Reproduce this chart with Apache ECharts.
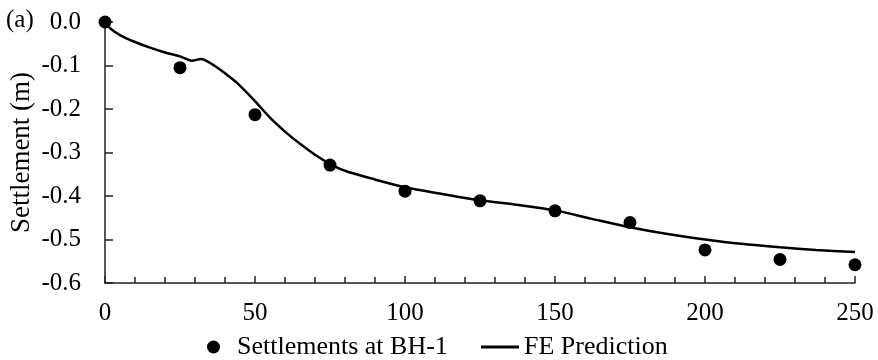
<!DOCTYPE html>
<html>
<head>
<meta charset="utf-8">
<script src="https://cdn.jsdelivr.net/npm/echarts@6/dist/echarts.min.js"></script>
<style>
  html, body { margin: 0; padding: 0; background: #fff; }
  #chart { width: 878px; height: 360px; }
</style>
</head>
<body>
<div id="chart"></div>
<script>
// 实测沉降点 (BH-1)
const measuredX = [0, 25, 50, 75, 100, 125, 150, 175, 200, 225, 250]
const measuredY = [0, -0.105, -0.213, -0.329, -0.389, -0.411, -0.434, -0.461, -0.524, -0.546, -0.558]

// 有限元预测曲线
const feX = [0, 2, 5, 10, 15, 20, 25, 29, 32, 34, 37, 40, 44, 50, 55, 60, 65, 70, 75, 80,
  90, 100, 112, 125, 137, 150, 162, 175, 187, 200, 212, 225, 237, 250]
const feY = [0, -0.016, -0.03, -0.046, -0.059, -0.07, -0.079, -0.089, -0.085, -0.09, -0.103,
  -0.118, -0.14, -0.182, -0.22, -0.252, -0.28, -0.305, -0.326, -0.342, -0.362, -0.38,
  -0.395, -0.41, -0.42, -0.433, -0.452, -0.472, -0.487, -0.5, -0.51, -0.518, -0.524, -0.529]

const FONT = 'Liberation Serif'

const chart = echarts.init(document.getElementById('chart'))

const option = {
  animation: false,
  textStyle: { fontFamily: FONT, color: '#000' },
  grid: { left: 105, right: 23, top: 22, bottom: 77, containLabel: false, outerBoundsMode: 'none' },
  graphic: [
    {
      type: 'text',
      left: 6,
      top: 8,
      style: { text: '(a)', font: '25px "Liberation Serif"', fill: '#000' }
    }
  ],
  legend: [
    {
      left: 202,
      top: 329,
      itemWidth: 37,
      itemHeight: 13,
      textStyle: { fontFamily: FONT, fontSize: 26, color: '#000' },
      data: [{ name: 'Settlements at BH-1', icon: 'circle' }]
    },
    {
      left: 476,
      top: 329,
      itemWidth: 38,
      itemHeight: 13,
      textStyle: { fontFamily: FONT, fontSize: 26, color: '#000' },
      data: [{ name: 'FE Prediction', icon: 'path://M0,0 L40,0 L40,3 L0,3 Z' }]
    }
  ],
  xAxis: {
    type: 'value',
    min: 0,
    max: 250,
    interval: 50,
    splitLine: { show: false },
    axisLine: { onZero: false, lineStyle: { color: '#222', width: 1.5 } },
    axisTick: { inside: true, length: 7, lineStyle: { color: '#222', width: 1.5 } },
    minorTick: { show: true, splitNumber: 5, length: 6, lineStyle: { color: '#222', width: 1.5 } },
    axisLabel: { fontFamily: FONT, fontSize: 25, color: '#000', margin: 18 }
  },
  yAxis: {
    type: 'value',
    min: -0.6,
    max: 0,
    interval: 0.1,
    name: 'Settlement (m)',
    nameLocation: 'middle',
    nameGap: 70,
    nameMoveOverlap: false,
    nameTextStyle: { fontFamily: FONT, fontSize: 27, color: '#000' },
    splitLine: { show: false },
    axisLine: { show: true, onZero: false, lineStyle: { color: '#222', width: 1.5 } },
    axisTick: { show: true, inside: true, length: 8, lineStyle: { color: '#222', width: 1.5 } },
    axisLabel: {
      fontFamily: FONT,
      fontSize: 25,
      color: '#000',
      margin: 24,
      formatter: (v) => (Math.abs(v) < 1e-9 ? '0.0' : v.toFixed(1))
    }
  },
  series: [
    {
      name: 'Settlements at BH-1',
      type: 'scatter',
      symbol: 'circle',
      symbolSize: 13,
      itemStyle: { color: '#000', opacity: 1 },
      z: 3,
      data: measuredX.map((x, i) => [x, measuredY[i]])
    },
    {
      name: 'FE Prediction',
      type: 'line',
      symbol: 'none',
      smooth: 0.3,
      lineStyle: { color: '#000', width: 2.5 },
      itemStyle: { color: '#000' },
      z: 2,
      data: feX.map((x, i) => [x, feY[i]])
    }
  ]
}

chart.setOption(option)
</script>
</body>
</html>
